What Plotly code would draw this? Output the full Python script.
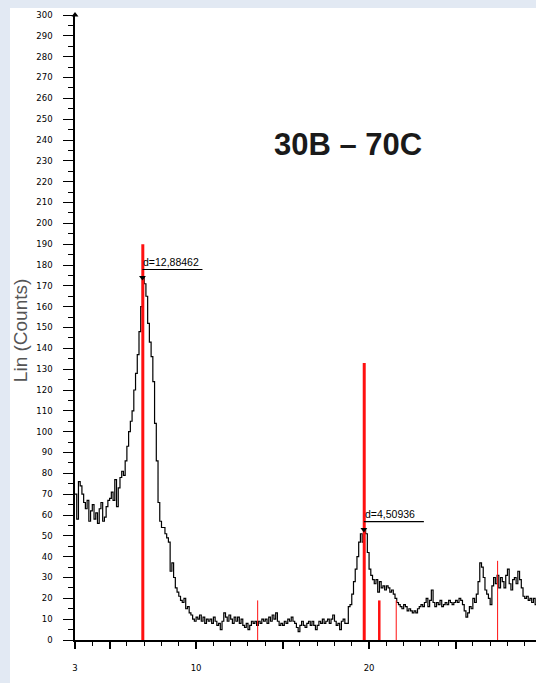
import numpy as np
import plotly.graph_objects as go

# Diffraction scan: counts sampled every 0.1 degree 2-theta starting at 3.0
scan_start = 3.0
scan_step = 0.1
counts = [
    70, 58, 76, 74, 70, 66, 63, 67, 57, 62,
    65, 58, 61, 56, 63, 66, 57, 59, 64, 67,
    68, 71, 67, 77, 64, 73, 78, 81, 79, 86,
    93, 100, 105, 110, 120, 128, 137, 148, 160, 174,
    171, 165, 152, 143, 136, 124, 104, 86, 66, 57,
    54, 54, 51, 49, 47, 33, 37, 30, 25, 23,
    21, 19, 18, 20, 15, 16, 13, 12, 10, 9,
    11, 10, 12, 9, 11, 8, 10, 9, 10, 8,
    11, 9, 7, 8, 5, 9, 13, 11, 9, 12,
    10, 8, 11, 9, 11, 8, 10, 7, 6, 8,
    5, 7, 9, 8, 9, 7, 9, 8, 10, 9,
    10, 8, 11, 9, 12, 10, 13, 9, 7, 8,
    7, 9, 8, 10, 9, 11, 9, 8, 6, 4,
    7, 9, 7, 6, 8, 9, 7, 9, 7, 5,
    7, 9, 8, 10, 8, 9, 10, 8, 10, 12,
    9, 7, 8, 5, 9, 10, 8, 8, 16, 17,
    22, 28, 34, 40, 47, 51, 47, 53, 51, 42,
    34, 31, 29, 27, 29, 23, 28, 25, 26, 24,
    26, 25, 23, 24, 22, 20, 18, 17, 16, 15,
    17, 16, 14, 15, 14, 13, 14, 13, 15, 16,
    17, 16, 18, 20, 16, 19, 24, 18, 16, 18,
    17, 19, 16, 17, 18, 17, 19, 18, 17, 18,
    19, 18, 20, 19, 17, 14, 11, 13, 16, 15,
    20, 18, 22, 28, 37, 35, 30, 24, 22, 20,
    17, 26, 30, 27, 31, 25, 30, 28, 25, 31,
    34, 27, 24, 29, 30, 27, 33, 29, 25, 21,
    20, 21, 19, 20, 18, 20, 17, 18,
]
two_theta = np.round(scan_start + scan_step * np.arange(len(counts)), 2)

# Reference pattern sticks (2-theta, relative height, drawn width)
stick_pos = [6.92, 13.56, 19.72, 20.59, 21.57, 27.43]
stick_height = [190, 19, 133, 19, 19, 38]
stick_width = [3, 1, 3, 2.5, 1, 1]

# Labelled reflections: search window and d-spacing text
peak_windows = [(6.0, 8.0), (19.0, 20.5)]
peak_labels = ["d=12,88462", "d=4,50936"]

title_text = "30B – 70C"
y_title = "Lin (Counts)"
x_tick_vals = [3, 5, 10, 15, 20, 25]
x_tick_text = ["3", "", "10", "", "20", ""]
x_range = [3, 29.65]
y_range = [0, 300]

tick_font = dict(family="DejaVu Sans", size=8.5, color="black")

fig = go.Figure()

fig.add_trace(go.Scatter(
    x=two_theta, y=counts, mode="lines",
    line=dict(color="black", width=1.2, shape="hv"),
    hoverinfo="skip", showlegend=False,
))

for pos, h, w in zip(stick_pos, stick_height, stick_width):
    fig.add_trace(go.Scatter(
        x=[pos, pos], y=[0, h], mode="lines",
        line=dict(color="#ff1010", width=w),
        hoverinfo="skip", showlegend=False,
    ))

ct = np.array(counts)
for (lo, hi), label in zip(peak_windows, peak_labels):
    sel = np.where((two_theta >= lo) & (two_theta <= hi))[0]
    i = sel[np.argmax(ct[sel])]
    px, py = float(two_theta[i]), float(ct[i])
    fig.add_trace(go.Scatter(
        x=[px], y=[py], mode="markers",
        marker=dict(symbol="triangle-down", size=6, color="black"),
        hoverinfo="skip", showlegend=False, cliponaxis=False,
    ))
    fig.add_annotation(
        x=px, y=py, xref="x", yref="y", text=label, showarrow=False,
        xanchor="left", yanchor="bottom", yshift=8, xshift=-1,
        font=dict(family="Liberation Sans", size=10.5, color="black"),
    )
    fig.add_shape(
        type="line", xref="x", yref="y",
        xsizemode="pixel", ysizemode="pixel",
        xanchor=px, yanchor=py, x0=0, x1=60, y0=8, y1=8,
        line=dict(color="black", width=1.2),
    )

# Arrow head at the top of the intensity axis
fig.add_trace(go.Scatter(
    x=[x_range[0]], y=[y_range[1]], mode="markers",
    marker=dict(symbol="triangle-up", size=6, color="black"),
    hoverinfo="skip", showlegend=False, cliponaxis=False,
))

# White panel behind the chart
fig.add_shape(
    type="rect", xref="paper", yref="paper",
    x0=-0.141, x1=1.0, y0=-0.069, y1=1.0112,
    fillcolor="white", line=dict(width=0), layer="below",
)

fig.add_annotation(
    x=0.592, y=0.792, xref="paper", yref="paper", text="<b>" + title_text + "</b>",
    showarrow=False, xanchor="center", yanchor="middle",
    font=dict(family="Liberation Sans", size=31, color="#1a1a1a"),
)

fig.add_annotation(
    x=-0.119, y=0.496, xref="paper", yref="paper", text=y_title,
    showarrow=False, textangle=-90, xanchor="center", yanchor="middle",
    font=dict(family="Liberation Sans", size=19, color="#555555"),
)

# Last x tick label sits past the right edge of the axis
fig.add_annotation(
    x=(30 - x_range[0]) / (x_range[1] - x_range[0]), y=0,
    xref="paper", yref="paper", text="30", showarrow=False,
    xanchor="center", yanchor="middle", yshift=-27, font=tick_font,
)

fig.update_layout(
    width=536, height=683,
    margin=dict(l=75, r=0, t=15, b=43),
    paper_bgcolor="#e2e9f3",
    plot_bgcolor="white",
    showlegend=False,
    xaxis=dict(
        range=x_range, showline=True, linecolor="black", linewidth=1.5,
        showgrid=False, zeroline=False,
        tickmode="array", tickvals=x_tick_vals, ticktext=x_tick_text,
        ticks="outside", ticklen=7, tickwidth=1.5, tickcolor="black",
        ticklabelstandoff=12, tickfont=tick_font,
        minor=dict(tickmode="linear", tick0=0, dtick=1, ticks="outside",
                   ticklen=4, tickwidth=1.3, tickcolor="black"),
    ),
    yaxis=dict(
        range=y_range, showline=True, linecolor="black", linewidth=1.5,
        showgrid=False, zeroline=False,
        tickmode="linear", tick0=0, dtick=10,
        ticks="outside", ticklen=10, tickwidth=1.3, tickcolor="black",
        ticklabelstandoff=9, tickfont=tick_font,
        minor=dict(tickmode="linear", tick0=0, dtick=5, ticks="outside",
                   ticklen=5, tickwidth=1.3, tickcolor="black"),
    ),
)

fig.write_html("out.html")
